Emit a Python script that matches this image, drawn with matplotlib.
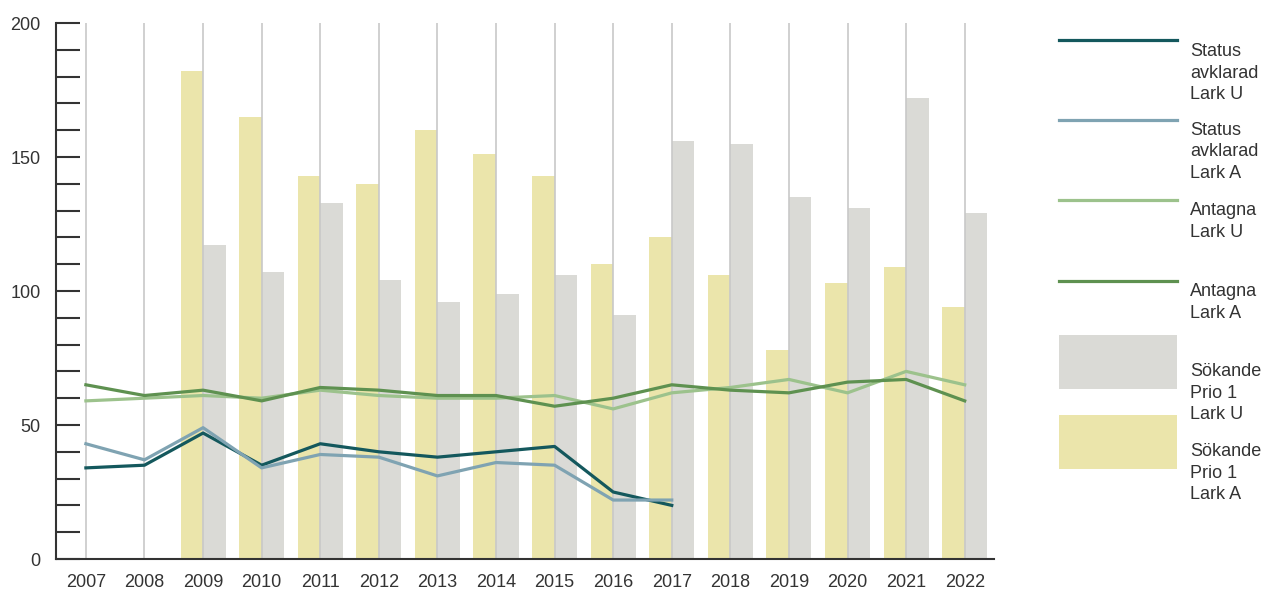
import matplotlib
matplotlib.use('Agg')
import matplotlib.pyplot as plt
from matplotlib.lines import Line2D
from matplotlib.patches import Rectangle

plt.rcParams['font.family'] = ['Liberation Sans', 'DejaVu Sans']

# Data
years = list(range(2007, 2023))
bar_years = list(range(2009, 2023))
sokande_lark_a = [182, 165, 143, 140, 160, 151, 143, 110, 120, 106, 78, 103, 109, 94]
sokande_lark_u = [117, 107, 133, 104, 96, 99, 106, 91, 156, 155, 135, 131, 172, 129]

status_years = list(range(2007, 2018))
status_lark_u = [34, 35, 47, 35, 43, 40, 38, 40, 42, 25, 20]
status_lark_a = [43, 37, 49, 34, 39, 38, 31, 36, 35, 22, 22]

antagna_lark_u = [59, 60, 61, 60, 63, 61, 60, 60, 61, 56, 62, 64, 67, 62, 70, 65]
antagna_lark_a = [65, 61, 63, 59, 64, 63, 61, 61, 57, 60, 65, 63, 62, 66, 67, 59]

# Colours
c_teal = '#14585d'
c_blue = '#7fa3b2'
c_lgreen = '#9cc28c'
c_green = '#5e9150'
c_gray = '#dadad6'
c_yellow = '#ebe5ab'
c_text = '#333333'

W, H = 1262, 591
fig = plt.figure(figsize=(W / 100, H / 100), dpi=100)
ax = fig.add_axes([56 / W, 1 - 559 / H, (994 - 56) / W, (559 - 23) / H])

bw = 0.385
ax.bar([y - bw / 2 for y in bar_years], sokande_lark_a, width=bw, color=c_yellow, zorder=1)
ax.bar([y + bw / 2 for y in bar_years], sokande_lark_u, width=bw, color=c_gray, zorder=1)

# vertical gridlines
for y in years:
    ax.axvline(y, color='#c8c8c8', lw=1.2, zorder=1.5)

lw = 2.3
ax.plot(status_years, status_lark_u, color=c_teal, lw=lw, zorder=3)
ax.plot(status_years, status_lark_a, color=c_blue, lw=lw, zorder=3)
ax.plot(years, antagna_lark_u, color=c_lgreen, lw=lw, zorder=3)
ax.plot(years, antagna_lark_a, color=c_green, lw=lw, zorder=3)

ax.set_xlim(2006.49, 2022.5)
ax.set_ylim(0, 200)
ax.set_xticks(years)
ax.set_xticklabels([str(y) for y in years])
ax.set_yticks([0, 50, 100, 150, 200])
ax.set_yticks(range(0, 201, 10), minor=True)

for s in ['top', 'right']:
    ax.spines[s].set_visible(False)
for s in ['left', 'bottom']:
    ax.spines[s].set_color(c_text)
    ax.spines[s].set_linewidth(1.5)
    ax.spines[s].set_zorder(4)

ax.tick_params(axis='y', which='both', direction='in', length=17, width=1.5,
               color=c_text, labelsize=13, labelcolor=c_text, pad=11)
ax.tick_params(axis='x', length=0, labelsize=13, labelcolor=c_text, pad=11)

# Legend drawn by hand at the right
x0, x1 = 1059 / W, 1177 / W
tx = 1190 / W
for yy, col in [(40, c_teal), (120, c_blue), (200, c_lgreen), (281, c_green)]:
    fig.add_artist(Line2D([x0, x1], [1 - yy / H, 1 - yy / H], color=col, lw=2.3))
fig.add_artist(Rectangle((x0, 1 - 389 / H), x1 - x0, 54 / H, color=c_gray, lw=0))
fig.add_artist(Rectangle((x0, 1 - 469 / H), x1 - x0, 54 / H, color=c_yellow, lw=0))

labels = [
    (73, 'Status\navklarad\nLark U'),
    (152, 'Status\navklarad\nLark A'),
    (221.5, 'Antagna\nLark U'),
    (302.5, 'Antagna\nLark A'),
    (393, 'Sökande\nPrio 1\nLark U'),
    (473, 'Sökande\nPrio 1\nLark A'),
]
for yy, txt in labels:
    fig.text(tx, 1 - yy / H, txt, ha='left', va='center', fontsize=13,
             color=c_text, linespacing=1.35)

fig.savefig('out.png', dpi=100)
